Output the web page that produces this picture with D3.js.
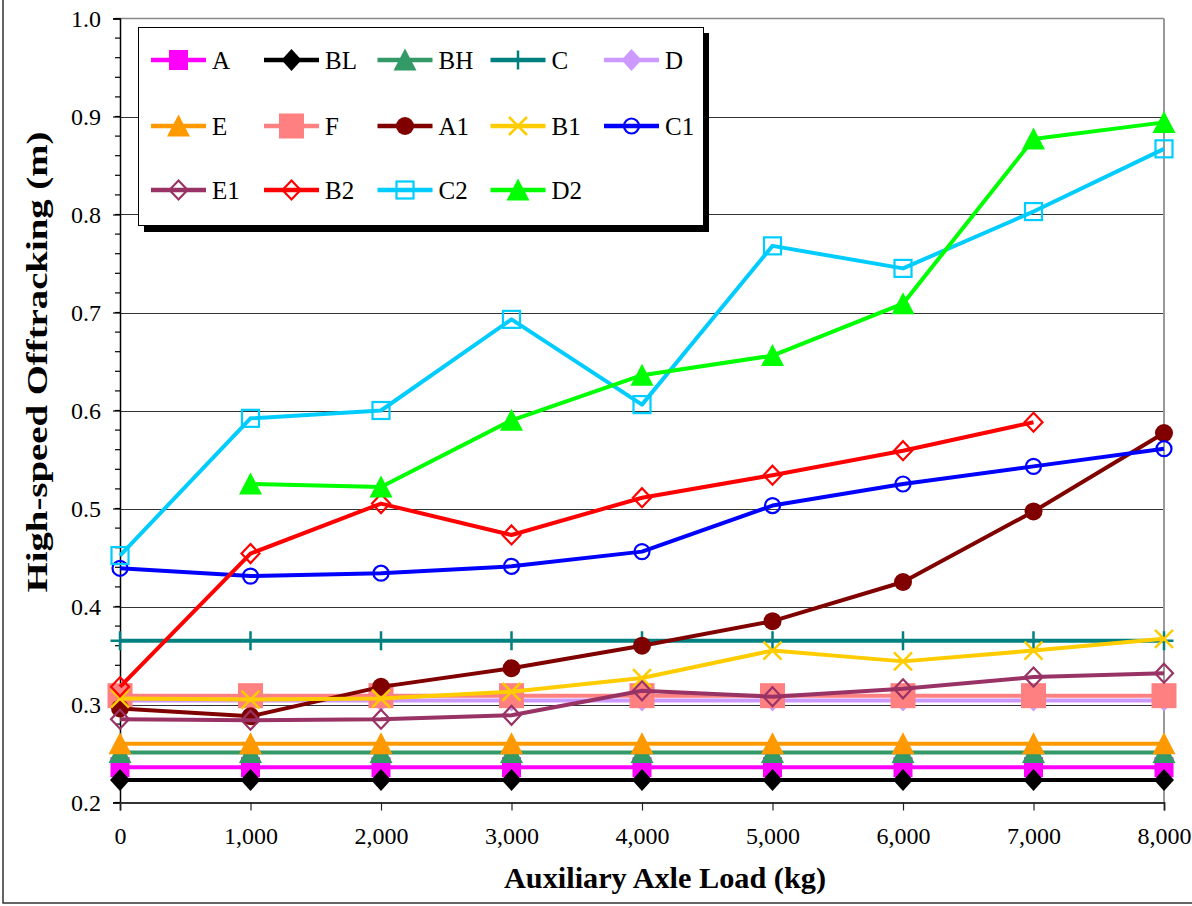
<!DOCTYPE html>
<html><head><meta charset="utf-8">
<script src="https://cdn.jsdelivr.net/npm/d3@7"></script>
<style>
body{margin:0;background:#fff}
svg{display:block}
text{font-family:"Liberation Serif","Times New Roman",serif;fill:#000}
</style>
</head><body>
<svg id="chart" width="1192" height="906"></svg>
<script>
// ---------------- data ----------------
const loads = [0, 1000, 2000, 3000, 4000, 5000, 6000, 7000, 8000];
const xTickLabels = ["0", "1,000", "2,000", "3,000", "4,000", "5,000", "6,000", "7,000", "8,000"];
const yTicks = [0.2, 0.3, 0.4, 0.5, 0.6, 0.7, 0.8, 0.9, 1.0];
const yTickLabels = ["0.2", "0.3", "0.4", "0.5", "0.6", "0.7", "0.8", "0.9", "1.0"];

const A  = [0.236, 0.236, 0.236, 0.236, 0.236, 0.236, 0.236, 0.236, 0.236];
const BL = [0.223, 0.223, 0.223, 0.223, 0.223, 0.223, 0.223, 0.223, 0.223];
const BH = [0.251, 0.251, 0.251, 0.251, 0.251, 0.251, 0.251, 0.251, 0.251];
const C  = [0.365, 0.365, 0.365, 0.365, 0.365, 0.365, 0.365, 0.365, 0.365];
const D  = [0.304, 0.304, 0.304, 0.304, 0.304, 0.304, 0.304, 0.304, 0.304];
const E  = [0.260, 0.260, 0.260, 0.260, 0.260, 0.260, 0.260, 0.260, 0.260];
const F  = [0.309, 0.309, 0.309, 0.309, 0.309, 0.309, 0.309, 0.309, 0.309];
const A1 = [0.296, 0.288, 0.318, 0.337, 0.360, 0.385, 0.425, 0.497, 0.577];
const B1 = [0.306, 0.305, 0.306, 0.313, 0.327, 0.355, 0.344, 0.355, 0.367];
const C1 = [0.439, 0.431, 0.434, 0.441, 0.456, 0.503, 0.525, 0.543, 0.561];
const E1 = [0.285, 0.284, 0.285, 0.289, 0.314, 0.308, 0.316, 0.328, 0.332];
const B2 = [0.318, 0.454, 0.505, 0.473, 0.511, 0.534, 0.559, 0.588, null];
const C2 = [0.452, 0.592, 0.600, 0.693, 0.606, 0.768, 0.745, 0.803, 0.867];
const D2 = [null, 0.525, 0.522, 0.590, 0.636, 0.656, 0.709, 0.877, 0.894];

const seriesNames  = ["A", "BL", "BH", "C", "D", "E", "F", "A1", "B1", "C1", "E1", "B2", "C2", "D2"];
const seriesValues = [A, BL, BH, C, D, E, F, A1, B1, C1, E1, B2, C2, D2];

// ---------------- styles ----------------
const seriesColors  = ["#FF00FF", "#000000", "#339966", "#008080", "#CC99FF", "#FF9900", "#FF8080",
                       "#800000", "#FFCC00", "#0000FF", "#993366", "#FF0000", "#00CCFF", "#00FF00"];
const seriesMarkers = ["square", "diamond", "triangle", "plus", "diamond", "triangle", "bigsquare",
                       "circle", "x", "ocircle", "odiamond", "odiamond", "osquare", "triangle"];

const W = 1192, H = 906;
const plot = {left: 120, right: 1164, top: 18.5, bottom: 802.5};

const svg = d3.select("#chart");
const x = d3.scaleLinear().domain([0, 8000]).range([plot.left, plot.right]);
const y = d3.scaleLinear().domain([0.2, 1.0]).range([plot.bottom, plot.top]);

// outer border (cropped frame)
svg.append("rect").attr("x", 3).attr("y", -10).attr("width", W + 20).attr("height", 913)
  .attr("fill", "#fff").attr("stroke", "#333").attr("stroke-width", 1.5);

// gridlines
svg.append("g").selectAll("line").data(yTicks.filter(t => t > 0.2 && t < 1.0)).join("line")
  .attr("x1", plot.left).attr("x2", plot.right)
  .attr("y1", d => Math.round(y(d)) + 0.5).attr("y2", d => Math.round(y(d)) + 0.5)
  .attr("stroke", "#333").attr("stroke-width", 1.2);

// plot border top / right
svg.append("line").attr("x1", plot.left).attr("x2", plot.right).attr("y1", plot.top).attr("y2", plot.top)
  .attr("stroke", "#888").attr("stroke-width", 1.5);
svg.append("line").attr("x1", plot.right).attr("x2", plot.right).attr("y1", plot.top).attr("y2", plot.bottom)
  .attr("stroke", "#999").attr("stroke-width", 2);

// Y axis
const yAxis = d3.axisLeft(y).tickValues(yTicks).tickSize(7).tickFormat((d, i) => yTickLabels[i]).tickPadding(12);
const yMinor = d3.range(0.2, 1.0001, 0.02);
svg.append("g").selectAll("line").data(yMinor).join("line")
  .attr("x1", plot.left - 5).attr("x2", plot.left)
  .attr("y1", d => y(d)).attr("y2", d => y(d)).attr("stroke", "#000").attr("stroke-width", 1.2);
const gy = svg.append("g").attr("transform", `translate(${plot.left},0)`).call(yAxis);
gy.select(".domain").attr("stroke", "#000").attr("stroke-width", 1.5);
gy.selectAll(".tick line").attr("stroke", "#000").attr("stroke-width", 1.2);
gy.selectAll(".tick text").attr("font-size", 24).attr("font-family", "Liberation Serif").attr("fill", "#000");

// X axis
const xAxis = d3.axisBottom(x).tickValues(loads).tickSize(8).tickFormat((d, i) => xTickLabels[i]).tickPadding(16);
const gx = svg.append("g").attr("transform", `translate(0,${plot.bottom})`).call(xAxis);
gx.select(".domain").attr("stroke", "#333").attr("stroke-width", 1.8);
gx.selectAll(".tick line").attr("stroke", "#222").attr("stroke-width", 1.2);
gx.selectAll(".tick text").attr("font-size", 24).attr("font-family", "Liberation Serif").attr("fill", "#000");

// axis titles
svg.append("text").attr("x", 665).attr("y", 888).attr("text-anchor", "middle")
  .attr("font-size", 30).attr("font-weight", "bold")
  .attr("textLength", 322).attr("lengthAdjust", "spacingAndGlyphs")
  .text("Auxiliary Axle Load (kg)");
svg.append("text").attr("transform", "translate(47,362) rotate(-90)").attr("text-anchor", "middle")
  .attr("font-size", 29).attr("font-weight", "bold")
  .attr("textLength", 461).attr("lengthAdjust", "spacingAndGlyphs")
  .text("High-speed Offtracking (m)");

// marker drawing
function drawMarker(g, type, color) {
  switch (type) {
    case "square":
      g.append("rect").attr("x", -9.5).attr("y", -10).attr("width", 19).attr("height", 20).attr("fill", color);
      break;
    case "bigsquare":
      g.append("rect").attr("x", -12.5).attr("y", -12.5).attr("width", 25).attr("height", 25).attr("fill", color);
      break;
    case "diamond":
      g.append("path").attr("d", "M0,-11L10,0L0,11L-10,0Z").attr("fill", color);
      break;
    case "odiamond":
      g.append("path").attr("d", "M0,-9.5L9,0L0,9.5L-9,0Z").attr("fill", "none").attr("stroke", color).attr("stroke-width", 2.2);
      break;
    case "triangle":
      g.append("path").attr("d", "M0,-11.5L11.5,10.5L-11.5,10.5Z").attr("fill", color);
      break;
    case "circle":
      g.append("circle").attr("r", 9).attr("fill", color);
      break;
    case "ocircle":
      g.append("circle").attr("r", 7.5).attr("fill", "none").attr("stroke", color).attr("stroke-width", 2.2);
      break;
    case "osquare":
      g.append("rect").attr("x", -8.5).attr("y", -8.5).attr("width", 17).attr("height", 17)
        .attr("fill", "none").attr("stroke", color).attr("stroke-width", 2.2);
      break;
    case "plus":
      g.append("path").attr("d", "M0,-9.5V9.5M-9.5,0H9.5").attr("stroke", color).attr("stroke-width", 2.5);
      break;
    case "x":
      g.append("path").attr("d", "M-9,-9L9,9M-9,9L9,-9").attr("stroke", color).attr("stroke-width", 2.5);
      break;
  }
}

// series
const line = d3.line().defined(d => d[1] != null).x(d => x(d[0])).y(d => y(d[1]));
const plotG = svg.append("g");
seriesValues.forEach((vals, i) => {
  const pts = loads.map((l, j) => [l, vals[j]]);
  const g = plotG.append("g");
  g.append("path").datum(pts).attr("d", line).attr("fill", "none")
    .attr("stroke", seriesColors[i]).attr("stroke-width", 4).attr("stroke-linejoin", "round");
  pts.filter(p => p[1] != null).forEach(p => {
    const m = g.append("g").attr("transform", `translate(${x(p[0])},${y(p[1])})`);
    drawMarker(m, seriesMarkers[i], seriesColors[i]);
  });
});

// legend
const lg = svg.append("g");
lg.append("rect").attr("x", 144).attr("y", 33).attr("width", 565).attr("height", 199).attr("fill", "#000");
lg.append("rect").attr("x", 138.5).attr("y", 27.5).attr("width", 565).attr("height", 198)
  .attr("fill", "#fff").attr("stroke", "#000").attr("stroke-width", 1);
const colX = [151, 264, 377.5, 490.5, 604];
const rowY = [60, 126, 190];
seriesNames.forEach((name, i) => {
  const cx = colX[i % 5], cy = rowY[Math.floor(i / 5)];
  const g = lg.append("g");
  g.append("line").attr("x1", cx).attr("x2", cx + 55).attr("y1", cy).attr("y2", cy)
    .attr("stroke", seriesColors[i]).attr("stroke-width", 4.5);
  const m = g.append("g").attr("transform", `translate(${cx + 27.5},${cy})`);
  drawMarker(m, seriesMarkers[i], seriesColors[i]);
  g.append("text").attr("x", cx + 61).attr("y", cy + 8.5).attr("font-size", 25).text(name);
});
</script>
</body></html>
